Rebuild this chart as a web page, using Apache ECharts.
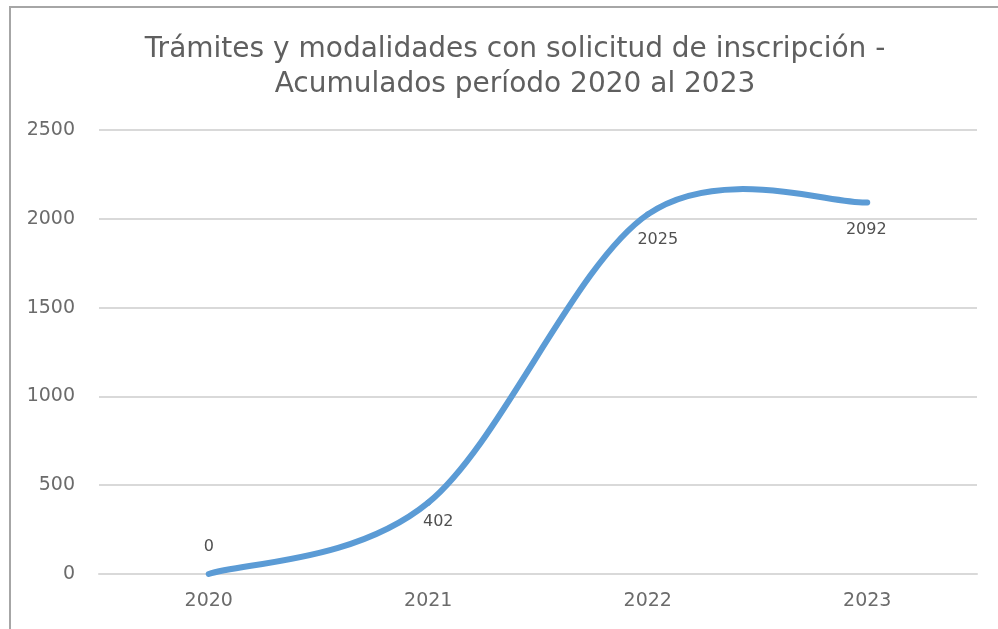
<!DOCTYPE html>
<html>
<head>
<meta charset="utf-8">
<script src="https://cdn.jsdelivr.net/npm/echarts@6/dist/echarts.min.js"></script>
<style>
  html, body { margin: 0; padding: 0; background: #fff; overflow: hidden; }
  #wrap { position: relative; width: 998px; height: 629px; overflow: hidden; }
  #frame { position: absolute; left: 9px; top: 6px; width: 1200px; height: 1200px;
    border-top: 2px solid #a6a6a6; border-left: 2px solid #a6a6a6; pointer-events: none; }
  #chart { position: absolute; left: 0; top: 0; width: 998px; height: 629px; }
</style>
</head>
<body>
<div id="wrap">
  <div id="chart"></div>
  <div id="frame"></div>
</div>
<script>
// data
const years = ['2020', '2021', '2022', '2023']
const totals = [0, 402, 2025, 2092]
// where each value label sits relative to its point
const labelPlaces = [
  { position: 'top', offset: [0, -14] },
  { position: 'bottom', offset: [10, 6] },
  { position: 'bottom', offset: [10, 12] },
  { position: 'bottom', offset: [-1, 14] }
]

const chart = echarts.init(document.getElementById('chart'))
const font = '"DejaVu Sans", sans-serif'

// spreadsheet-style smoothed segment i -> i+1 (control points from neighbours / 6)
function renderSegment (params, api) {
  const i = params.dataIndex
  const n = totals.length
  if (i >= n - 1) return null
  const pt = (k) => {
    const j = Math.max(0, Math.min(n - 1, k))
    return api.coord([j, totals[j]])
  }
  const p0 = pt(i - 1)
  const p1 = pt(i)
  const p2 = pt(i + 1)
  const p3 = pt(i + 2)
  const c1 = [p1[0] + (p2[0] - p0[0]) / 6, p1[1] + (p2[1] - p0[1]) / 6]
  const c2 = [p2[0] - (p3[0] - p1[0]) / 6, p2[1] - (p3[1] - p1[1]) / 6]
  return {
    type: 'bezierCurve',
    shape: { x1: p1[0], y1: p1[1], cpx1: c1[0], cpy1: c1[1], cpx2: c2[0], cpy2: c2[1], x2: p2[0], y2: p2[1] },
    style: { stroke: '#5b9bd5', lineWidth: 6, fill: null, lineCap: 'round' }
  }
}

const option = {
  animation: false,
  backgroundColor: '#fff',
  title: {
    text: 'Trámites y modalidades con solicitud de inscripción -\nAcumulados período 2020 al 2023',
    left: 510,
    textAlign: 'center',
    top: 27,
    textStyle: {
      fontFamily: font,
      fontSize: 28,
      fontWeight: 'normal',
      color: '#5f5f5f',
      lineHeight: 35
    }
  },
  grid: { left: 99, right: 21, top: 130, bottom: 55 },
  xAxis: {
    type: 'category',
    data: years,
    boundaryGap: true,
    axisLine: { show: true, lineStyle: { color: '#d9d9d9', width: 2 } },
    axisTick: { show: false },
    axisLabel: { fontFamily: font, fontSize: 19, color: '#6b6b6b', margin: 18 }
  },
  yAxis: {
    type: 'value',
    min: 0,
    max: 2500,
    interval: 500,
    axisLine: { show: false },
    axisTick: { show: false },
    splitLine: { lineStyle: { color: '#d9d9d9', width: 2 } },
    axisLabel: { fontFamily: font, fontSize: 19, color: '#6b6b6b', margin: 24, formatter: (v) => String(v) }
  },
  series: [
    {
      type: 'custom',
      renderItem: renderSegment,
      data: totals.map((v, i) => [i, v]),
      z: 3
    },
    {
      type: 'line',
      data: totals.map((v, i) => ({
        value: v,
        label: labelPlaces[i]
      })),
      showSymbol: true,
      symbol: 'circle',
      symbolSize: 0,
      lineStyle: { opacity: 0 },
      itemStyle: { color: '#5b9bd5' },
      label: {
        show: true,
        fontFamily: font,
        fontSize: 16,
        color: '#505050'
      },
      z: 4
    }
  ]
}
chart.setOption(option)
</script>
</body>
</html>
